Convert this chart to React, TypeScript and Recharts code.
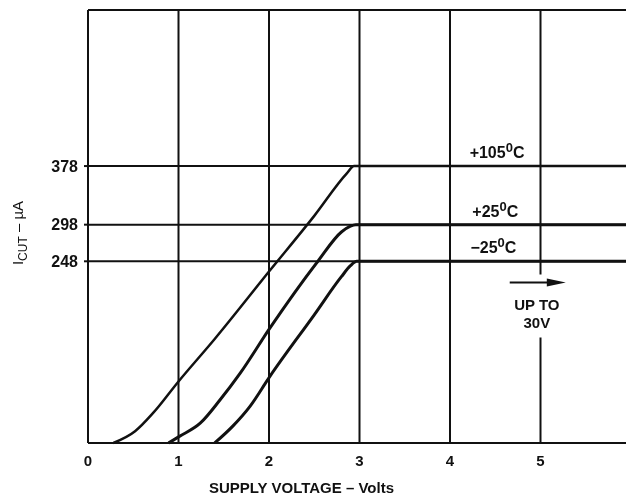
import React from 'react';
import { LineChart, Line, XAxis, YAxis, ReferenceLine, ReferenceDot } from 'recharts';

// axis ticks
const xTicks = [0, 1, 2, 3, 4, 5, 6];
const yTicks = [248, 298, 378];
const yMax = 591;

// temperature curves: supply voltage (V) vs I_CUT (µA)
const tempLabels = ['+105', '+25', '\u221225'];
const voltsHot = [0.28, 0.52, 0.72, 1.0, 1.4, 2.0, 2.5, 2.86, 2.94, 3.2, 6.0];
const currentHot = [0, 16, 41, 84, 142, 234, 310, 368, 378, 378, 378];
const voltsRoom = [0.89, 1.01, 1.24, 1.46, 1.68, 2.0, 2.54, 2.8, 2.9, 2.96, 6.0];
const currentRoom = [0, 9, 27, 59, 95, 155, 248, 288, 296, 298, 298];
const voltsCold = [1.4, 1.6, 1.79, 2.01, 2.5, 2.8, 2.9, 2.97, 6.0];
const currentCold = [0, 23, 50, 91, 175, 227, 242, 248, 248];

const toPoints = (xs: number[], ys: number[]) => xs.map((v, i) => ({ v, i: ys[i] }));
const hotData = toPoints(voltsHot, currentHot);
const roomData = toPoints(voltsRoom, currentRoom);
const coldData = toPoints(voltsCold, currentCold);

const font = '"Liberation Sans", Arial, sans-serif';
const ink = '#111';

const TempText = ({ cx, cy, name }: any) => (
  <text x={cx} y={cy - 8} textAnchor="middle" fontFamily={font} fontSize={16} fontWeight="bold" fill={ink}>
    {name}
    <tspan fontSize={13} dy={-6}>0</tspan>
    <tspan dy={6}>C</tspan>
  </text>
);

const UpToText = ({ cx, cy }: any) => (
  <text x={cx} y={cy} textAnchor="middle" fontFamily={font} fontSize={15} fontWeight="bold" fill={ink}>
    <tspan x={cx} dy="0.35em">UP TO</tspan>
    <tspan x={cx} dy="1.2em">30V</tspan>
  </text>
);

const Arrow = ({ x1, y1, x2 }: any) => (
  <g>
    <line x1={x1} y1={y1} x2={x2 - 12} y2={y1} stroke={ink} strokeWidth={2} />
    <polygon points={`${x2},${y1} ${x2 - 19},${y1 - 4} ${x2 - 19},${y1 + 4}`} fill={ink} />
  </g>
);

const YLabel = () => (
  <text x={0} y={0} transform="translate(15,225) rotate(-90)" textAnchor="middle" fontFamily={font} fontSize={15} fill={ink}>
    I<tspan fontSize={12} dy={4}>CUT</tspan>
    <tspan dy={-4}> {'\u2013'} µA</tspan>
  </text>
);

const App = () => {
  const grid = { stroke: ink, strokeWidth: 2 };
  return (
    <div style={{ position: 'fixed', left: 8, top: 8, width: 618, height: 487, overflow: 'hidden' }}>
      <LineChart width={640} height={487} margin={{ top: 2, right: 17, bottom: 22, left: 0 }}>
        <XAxis
          dataKey="v"
          type="number"
          domain={[0, 6]}
          ticks={xTicks}
          tickLine={false}
          tickSize={0}
          tickMargin={12}
          height={30}
          axisLine={{ stroke: ink, strokeWidth: 2 }}
          tick={{ fill: ink, fontSize: 15, fontWeight: 'bold', fontFamily: font }}
          label={{
            value: 'SUPPLY VOLTAGE \u2013 Volts',
            position: 'insideBottom',
            offset: -20,
            dx: -58,
            fill: ink,
            fontSize: 15,
            fontWeight: 'bold',
            fontFamily: font,
          }}
        />
        <YAxis
          type="number"
          domain={[0, yMax]}
          ticks={yTicks}
          width={80}
          tickSize={4}
          tickMargin={6}
          tickLine={{ stroke: ink, strokeWidth: 2 }}
          axisLine={{ stroke: ink, strokeWidth: 2 }}
          tick={{ fill: ink, fontSize: 16, fontWeight: 'bold', fontFamily: font }}
          label={{ content: () => <YLabel /> }}
        />
        <ReferenceLine y={yMax} {...grid} />
        {yTicks.map((t) => (
          <ReferenceLine key={'h' + t} y={t} {...grid} />
        ))}
        {xTicks.filter((t) => t > 0 && t !== 5).map((t) => (
          <ReferenceLine key={'v' + t} x={t} {...grid} />
        ))}
        <ReferenceLine segment={[{ x: 5, y: yMax }, { x: 5, y: 230 }]} {...grid} />
        <ReferenceLine segment={[{ x: 5, y: 144 }, { x: 5, y: 0 }]} {...grid} />
        <ReferenceLine segment={[{ x: 4.66, y: 219 }, { x: 5.28, y: 219 }]} shape={(p: any) => <Arrow {...p} />} />
        <ReferenceDot x={4.96} y={189} r={0} shape={(p: any) => <UpToText {...p} />} />
        <ReferenceDot x={4.52} y={378} r={0} shape={(p: any) => <TempText {...p} name={tempLabels[0]} />} />
        <ReferenceDot x={4.5} y={298} r={0} shape={(p: any) => <TempText {...p} name={tempLabels[1]} />} />
        <ReferenceDot x={4.48} y={248} r={0} shape={(p: any) => <TempText {...p} name={tempLabels[2]} />} />
        <Line data={hotData} dataKey="i" type="monotone" stroke={ink} strokeWidth={2.5} dot={false} isAnimationActive={false} />
        <Line data={roomData} dataKey="i" type="monotone" stroke={ink} strokeWidth={3} dot={false} isAnimationActive={false} />
        <Line data={coldData} dataKey="i" type="monotone" stroke={ink} strokeWidth={3} dot={false} isAnimationActive={false} />
      </LineChart>
    </div>
  );
};

export default App;
